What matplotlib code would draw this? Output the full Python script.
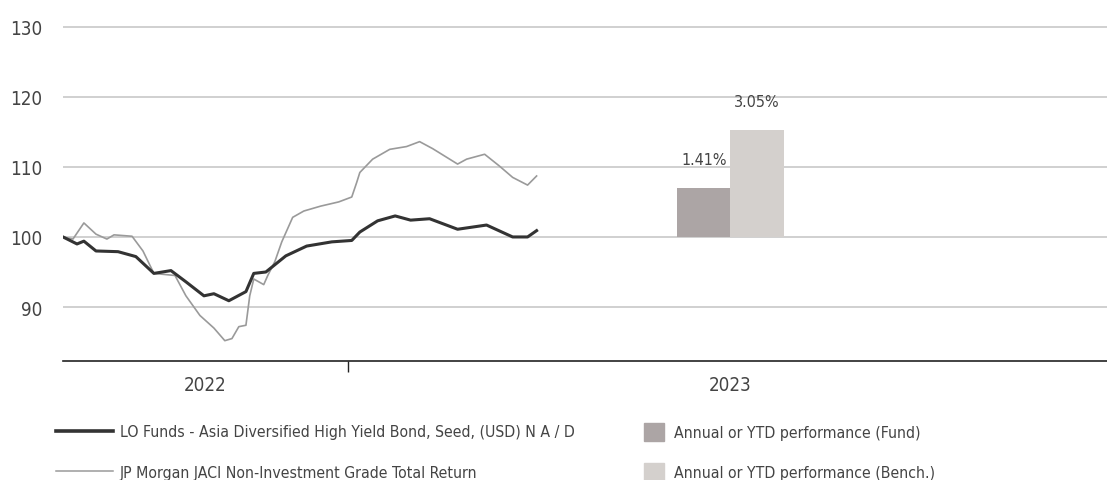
import matplotlib.pyplot as plt
from matplotlib.lines import Line2D
from matplotlib.patches import Patch

# months from start of 2022
fund_x = [0, 0.59, 0.88, 1.39, 2.32, 3.07, 3.83, 4.55, 5.18, 5.94, 6.36, 6.99, 7.71, 8.04,
          8.55, 9.39, 10.27, 11.33, 12.17, 12.51, 13.26, 14.0, 14.65, 15.45, 16.63, 17.85,
          18.95, 19.58, 19.96]
fund_y = [100, 99.0, 99.4, 98.0, 97.9, 97.2, 94.8, 95.2, 93.6, 91.6, 91.9, 90.9, 92.2, 94.8,
          95.0, 97.3, 98.7, 99.3, 99.5, 100.7, 102.3, 103.0, 102.4, 102.6, 101.1, 101.7,
          100.0, 100.0, 100.9]

bench_x = [0, 0.42, 0.88, 1.39, 1.85, 2.15, 2.91, 3.37, 3.83, 4.72, 5.18, 5.77, 6.36, 6.82,
           7.12, 7.41, 7.71, 7.87, 8.04, 8.46, 8.63, 8.93, 9.22, 9.68, 10.15, 10.86, 11.62,
           12.17, 12.38, 12.51, 13.05, 13.77, 14.48, 15.03, 15.58, 16.63, 17.01, 17.77, 18.4,
           18.95, 19.58, 19.96]
bench_y = [100, 99.7, 102.0, 100.4, 99.7, 100.3, 100.1, 98.0, 94.8, 94.5, 91.6, 88.8, 87.0, 85.2,
           85.5, 87.2, 87.4, 91.6, 94.0, 93.2, 94.5, 96.5, 99.3, 102.8, 103.7, 104.4, 105.0,
           105.7, 107.8, 109.2, 111.1, 112.5, 112.9, 113.6, 112.6, 110.4, 111.1, 111.8, 110.1,
           108.5, 107.4, 108.7]

years = ["2022", "2023"]
year_centers = [6, 28.13]
perf_fund = [1.41]
perf_bench = [3.05]
bar_scale = 5  # bar height = 100 + 5 * pct

fund_label = "LO Funds - Asia Diversified High Yield Bond, Seed, (USD) N A / D"
bench_label = "JP Morgan JACI Non-Investment Grade Total Return"

plt.rcParams['font.family'] = ['DejaVu Sans']
plt.rcParams['font.stretch'] = 'condensed'
txt = "#444444"

fig = plt.figure(figsize=(11.07, 4.81), dpi=100)
ax = fig.add_axes([63/1107, 119/481, 1 - 63/1107, 342/481])

ax.plot(bench_x, bench_y, color="#9a9a9a", lw=1.2, zorder=3)
ax.plot(fund_x, fund_y, color="#333333", lw=2.2, zorder=4)

bw = 2.25
xb = year_centers[1]
ax.bar(xb - bw/2, perf_fund[0]*bar_scale, bottom=100, width=bw, color="#aca5a5", zorder=2)
ax.bar(xb + bw/2, perf_bench[0]*bar_scale, bottom=100, width=bw, color="#d4d0cd", zorder=2)
ax.text(xb - bw/2, 100 + perf_fund[0]*bar_scale + 4, f"{perf_fund[0]:.2f}%", ha="center",
        va="center", fontsize=11.5, color=txt)
ax.text(xb + bw/2, 100 + perf_bench[0]*bar_scale + 4.1, f"{perf_bench[0]:.2f}%", ha="center",
        va="center", fontsize=11.5, color=txt)

ax.set_xlim(0, 44)
ax.set_ylim(82.3, 131.1)
ax.set_yticks([90, 100, 110, 120, 130])
ax.yaxis.grid(True, color="#c8c8c8", lw=1.2)
ax.set_axisbelow(True)
ax.tick_params(axis="y", length=0, pad=15, labelsize=13.5, labelcolor=txt)

ax.set_xticks([12])
ax.set_xticklabels([""])
ax.set_xticks(year_centers, minor=True)
ax.set_xticklabels(years, minor=True)
ax.tick_params(axis="x", which="major", length=8, width=1, color="#222222")
ax.tick_params(axis="x", which="minor", length=0, pad=10, labelsize=13.5, labelcolor=txt)

for s in ["top", "right", "left"]:
    ax.spines[s].set_visible(False)
ax.spines["bottom"].set_color("#222222")
ax.spines["bottom"].set_linewidth(1.2)

h1 = [Line2D([], [], color="#333333", lw=2.6), Line2D([], [], color="#9a9a9a", lw=1.1)]
fig.legend(h1, [fund_label, bench_label], loc="upper left", bbox_to_anchor=(56/1107, 0.116),
           frameon=False, fontsize=11.3, handlelength=3.6, handletextpad=0.45,
           labelspacing=1.63, borderpad=0, borderaxespad=0, labelcolor=txt)

h2 = [Patch(color="#aca5a5"), Patch(color="#d4d0cd")]
fig.legend(h2, ["Annual or YTD performance (Fund)", "Annual or YTD performance (Bench.)"],
           loc="upper left", bbox_to_anchor=(644/1107, 0.118), frameon=False, fontsize=11.3,
           handlelength=1.27, handleheight=1.34, handletextpad=0.64, labelspacing=1.4,
           borderpad=0, borderaxespad=0, labelcolor=txt)

fig.savefig("out.png", dpi=100)
